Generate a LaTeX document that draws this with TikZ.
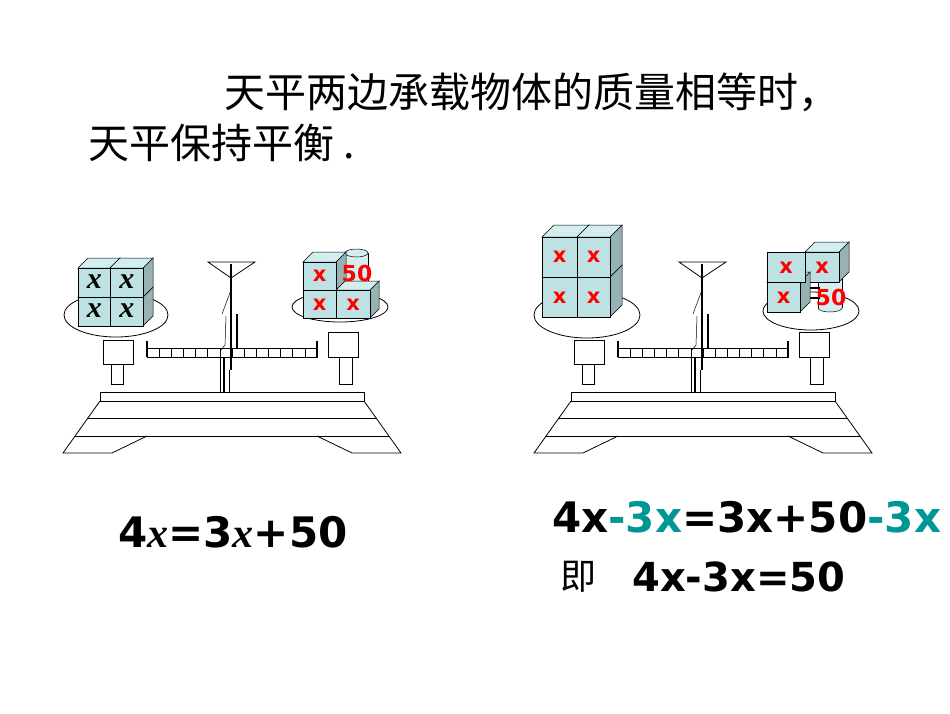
\documentclass[tikz,border=0pt]{standalone}
\usepackage{fontspec}
\newfontfamily\cjk{Noto Sans CJK SC}
\newfontfamily\dv{DejaVu Sans}
\newfontfamily\lser{Liberation Serif}
\begin{document}
\begin{tikzpicture}[x=1pt,y=-1pt,line join=miter]
\definecolor{cf}{RGB}{190,226,228}
\definecolor{ct}{RGB}{212,238,239}
\definecolor{cs}{RGB}{150,178,178}
\definecolor{teal2}{RGB}{0,150,150}
\tikzset{thin1/.style={draw=black,line width=0.8pt},
  thick1/.style={draw=black,line width=2.4pt},
  redx/.style={text=red,font=\dv\bfseries\fontsize{21}{21}\selectfont},
  bigx/.style={font=\lser\bfseries\itshape\fontsize{30}{30}\selectfont,inner sep=0},
  eq/.style={font=\dv\bfseries\fontsize{42}{44}\selectfont,anchor=west,inner sep=0}}
\newcommand{\mycube}[6]{% x y w h d name
  \fill[cs,draw=black,line width=0.5pt] (#1+#3,#2)--++(#5,-#5)--++(0,#4)--++(-#5,#5)--cycle;
  \fill[ct,draw=black,line width=0.5pt] (#1,#2)--++(#5,-#5)--++(#3,0)--++(-#5,#5)--cycle;
  \node[fill=cf,draw=black,line width=0.5pt,minimum width=#3pt,minimum height=#4pt,inner sep=0,anchor=north west] (#6) at (#1,#2) {};}
\newcommand{\mycyl}[5]{% x y w h name
  \draw[fill=ct,line width=0.5pt] (#1+#3/2,#2+#4) ellipse ({#3/2} and 4);
  \fill[ct] (#1,#2) rectangle (#1+#3,#2+#4);
  \draw[line width=0.5pt] (#1,#2)--(#1,#2+#4) (#1+#3,#2)--(#1+#3,#2+#4);
  \draw[fill=ct,line width=0.5pt] (#1+#3/2,#2) ellipse ({#3/2} and 4);
  \coordinate (#5) at (#1+#3/2,#2+#4/2);}
\newcommand{\mybalance}{%
\draw[thin1,fill=white] (100,392) rectangle (364,401);
\draw[thin1] (100,401)--(63,453)--(112,453)--(147,436) (364,401)--(401,453)--(352,453)--(317,436);
\draw[thin1] (75,436)--(389,436) (88,418)--(376,418);
\draw[thin1] (111,364) rectangle (123,384) (103,340) rectangle (133,364);
\draw[thin1] (339,357) rectangle (352,384) (328,332) rectangle (358,357);
\draw[thin1] (147,348) rectangle (317,357);
\foreach \i in {1,...,13} \draw[line width=0.6pt] (147+\i*170/14,348)--(147+\i*170/14,357);
\draw[thick1,line width=1.8pt] (147,341)--(147,357) (317,341)--(317,357);
\draw[thin1] (208,262)--(255,262)--(231,278)--cycle;
\draw[thick1,line width=1.6pt] (231,264)--(231,370);
\draw[thick1,line width=1.4pt] (237,314)--(237,348);
\draw[thick1,line width=1.6pt] (224,357)--(224,392);
\draw[line width=0.5pt] (220,357)--(220,392) (229,370)--(229,392);
\draw[line width=0.5pt] (231,290)--(222,314) (226,316)--(225,345)--(221,350);
}
% balance 1
\mybalance
\draw[thin1,fill=white] (116,315) ellipse (52 and 22);
\draw[thin1,fill=white] (340,307) ellipse (48 and 15);
\mycube{78}{297}{32}{29}{10}{a3}
\mycube{110}{297}{33}{29}{10}{a4}
\mycube{78}{268}{32}{29}{10}{a1}
\mycube{110}{268}{33}{29}{10}{a2}
\foreach \n in {a1,a2,a3,a4} \node[bigx] at ([yshift=1pt]\n) {x};
\mycyl{345}{253}{23}{36}{c1}
\mycube{336}{290}{34}{28}{9}{b3}
\mycube{303}{262}{33}{28}{10}{b1}
\mycube{303}{290}{33}{28}{0}{b2}
\node[redx] at (b1) {x};\node[redx] at (b2) {x};\node[redx] at (b3) {x};
\node[redx,font=\dv\bfseries\fontsize{22}{22}\selectfont] at (357,273) {50};
% balance 2
\begin{scope}[xshift=471pt]
\mybalance
\end{scope}
\draw[thin1,fill=white] (587,315) ellipse (53 and 23);
\draw[thin1,fill=white] (811,311) ellipse (48 and 19);
\mycube{542}{277}{35}{40}{12}{d3}
\mycube{577}{277}{33}{40}{12}{d4}
\mycube{542}{237}{35}{40}{12}{d1}
\mycube{577}{237}{33}{40}{12}{d2}
\foreach \n in {d1,d2,d3,d4} \node[redx] at (\n) {x};
\mycyl{818}{270}{24}{38}{c2}
\draw[line width=1.5pt] (805,288)--(820,288) (805,298)--(820,298);
\mycube{805}{252}{34}{30}{10}{e2}
\mycube{767}{282}{33}{30}{10}{e3}
\mycube{767}{252}{38}{30}{0}{e1}
\node[redx] at (e1) {x};\node[redx] at (e2) {x};\node[redx] at (e3) {x};
\node[redx,font=\dv\bfseries\fontsize{22}{22}\selectfont] at (831,297) {50};
% texts
\node[font=\cjk\fontsize{41}{41}\selectfont,anchor=west,inner sep=0] (t1) at (224,92) {天平两边承载物体的质量相等时，};
\node[font=\cjk\fontsize{41}{41}\selectfont,anchor=west,inner sep=0] (t2) at (88,143) {天平保持平衡 .};
\node[eq] (q1) at (118,532) {4{\lser\bfseries\itshape x}=3{\lser\bfseries\itshape x}+50};
\node[eq] (q2) at (552,517) {4x\textcolor{teal2}{-3x}=3x+50\textcolor{teal2}{-3x}};
\node[font=\cjk\fontsize{36}{36}\selectfont,anchor=west,inner sep=0] (q3) at (560,577) {即};
\node[eq,font=\dv\bfseries\fontsize{40}{42}\selectfont] (q4) at (632,577) {4x-3x=50};
\useasboundingbox (0,0) rectangle (950,713);
\end{tikzpicture}
\end{document}
